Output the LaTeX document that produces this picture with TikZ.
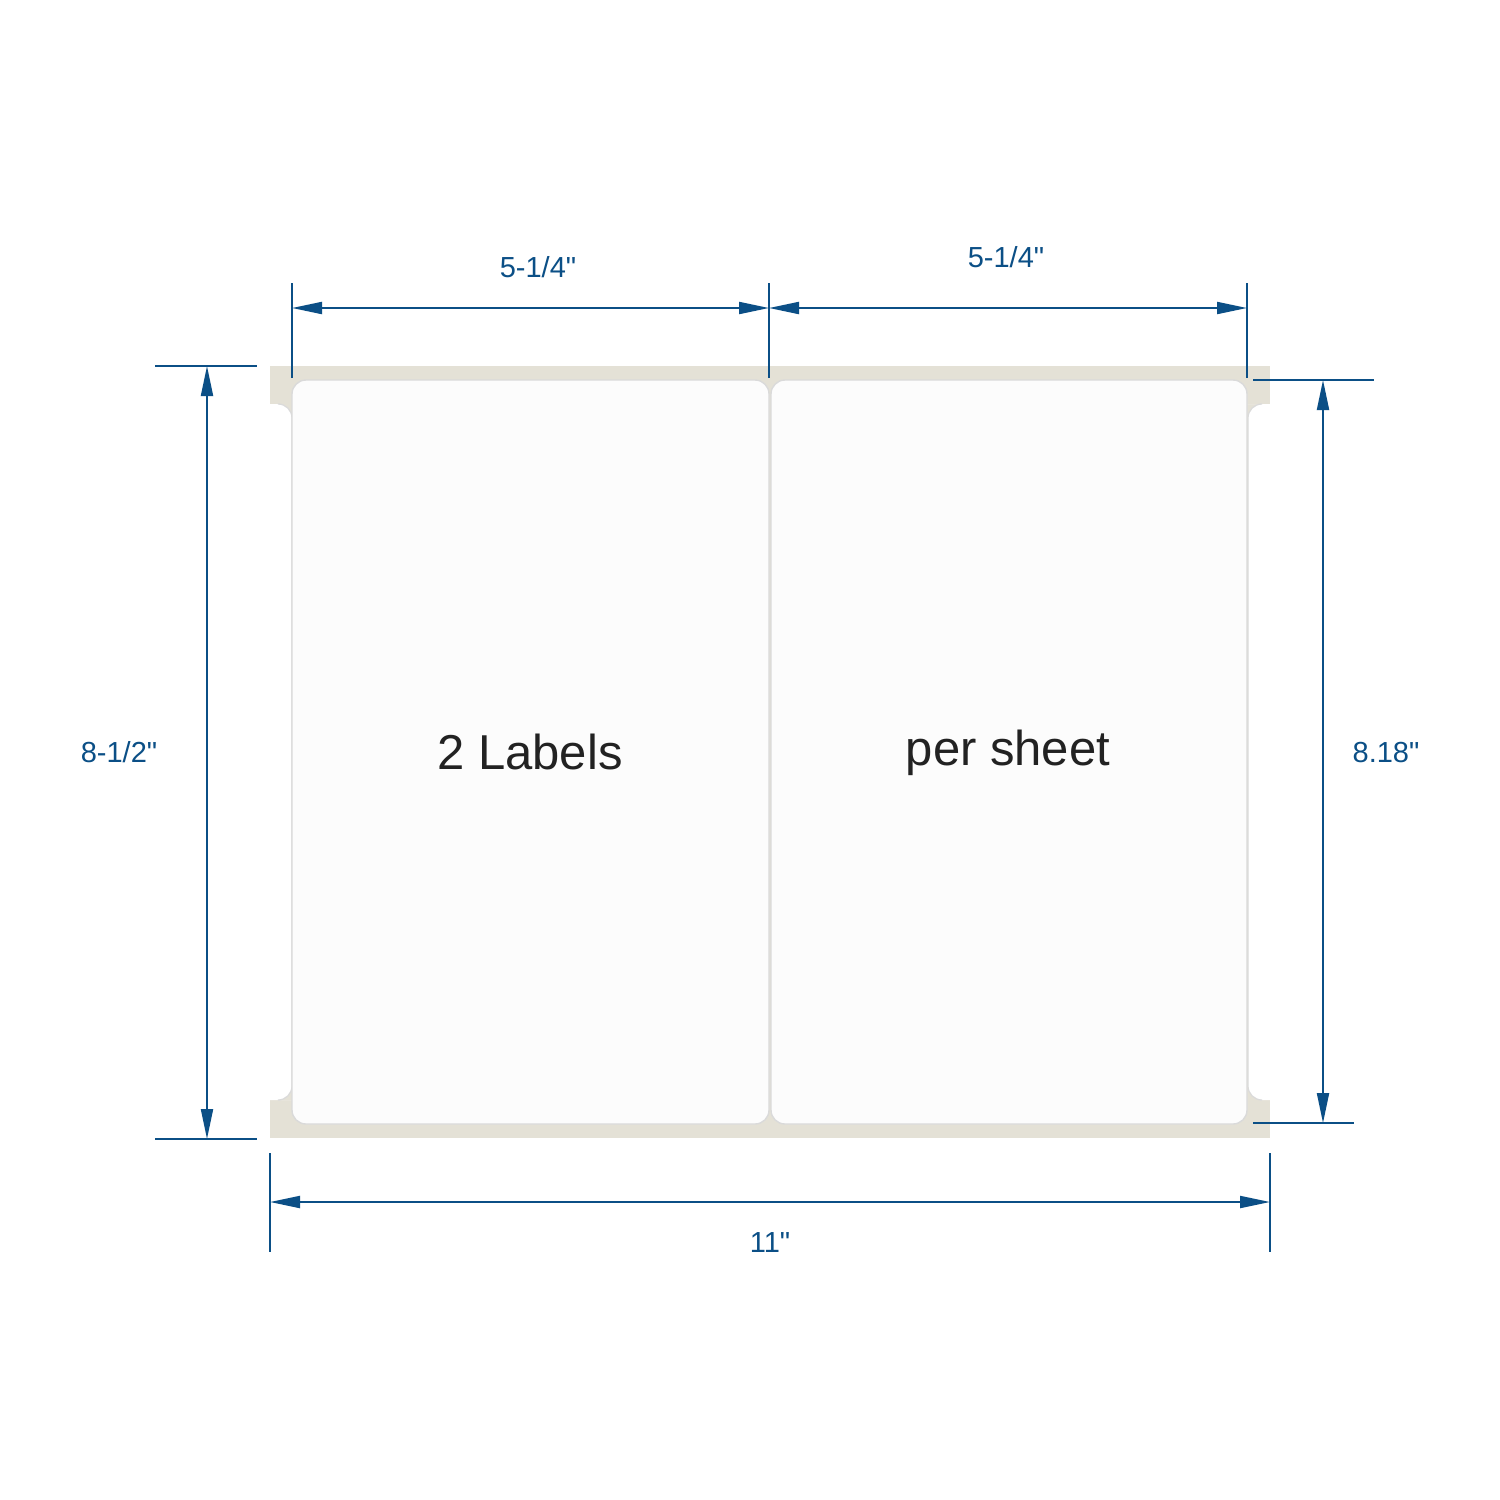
\documentclass[tikz,border=0pt]{standalone}
\usepackage{fontspec}
\setmainfont{Liberation Sans}
\newfontfamily\plainsans{Liberation Sans}
\usetikzlibrary{arrows.meta}
\definecolor{dimblue}{RGB}{11,79,134}
\definecolor{liner}{RGB}{228,225,214}
\definecolor{labelfill}{RGB}{252,252,252}
\definecolor{labeledge}{RGB}{218,218,218}
\definecolor{textgray}{RGB}{34,34,34}
\newcommand{\qm}{\symbol{34}}
\tikzset{
  dimline/.style={draw=dimblue, line width=1pt, {Triangle[length=15pt,width=6pt]}-{Triangle[length=15pt,width=6pt]}},
  extline/.style={draw=dimblue, line width=1pt},
  dimtext/.style={text=dimblue, font=\plainsans\fontsize{14.5}{17}\selectfont, anchor=base, inner sep=0pt},
  bigtext/.style={text=textgray, font=\plainsans\fontsize{24.5}{30}\selectfont, anchor=base, inner sep=0pt},
  labelbox/.style={fill=labelfill, draw=labeledge, line width=0.7pt, rounded corners=7pt},
  strip/.style={fill=white},
  stripedge/.style={draw=labeledge, line width=0.6pt},
}
\begin{document}
\begin{tikzpicture}[x=0.5pt, y=-0.5pt]
\useasboundingbox[fill=white] (0,0) rectangle (1500,1500);
% sheet / liner
\fill[liner] (270,366) rectangle (1270,1138);
% side strips
\path[strip] (270,404) -- (280,404) [rounded corners=7pt] -- (292,404) -- (292,1100) -- (280,1100) [sharp corners] -- (270,1100) -- cycle;
\path[stripedge] (280,404) [rounded corners=7pt] -- (292,404) -- (292,1100) -- (280,1100);
\path[strip] (1270,1100) -- (1260,1100) [rounded corners=7pt] -- (1248,1100) -- (1248,404) -- (1260,404) [sharp corners] -- (1270,404) -- cycle;
\path[stripedge] (1260,1100) [rounded corners=7pt] -- (1248,1100) -- (1248,404) -- (1260,404);
% labels
\path[labelbox] (292,380) rectangle (769,1124);
\path[labelbox] (771,380) rectangle (1247,1124);
\node[bigtext] (t1) at (530,769) {2 Labels};
\node[bigtext] (t2) at (1008,765) {per sheet};
% top dimensions
\coordinate (a1) at (292,283); \coordinate (a1b) at (292,378);
\coordinate (a2) at (769,283); \coordinate (a2b) at (769,378);
\coordinate (a3) at (1247,283); \coordinate (a3b) at (1247,378);
\draw[extline] (a1) -- (a1b);
\draw[extline] (a2) -- (a2b);
\draw[extline] (a3) -- (a3b);
\coordinate (d1s) at (292,308); \coordinate (d1e) at (769,308); \coordinate (d2e) at (1247,308);
\draw[dimline] (d1s) -- (d1e);
\draw[dimline] (d1e) -- (d2e);
\node[dimtext] (w1) at (538,277) {5-1/4\qm};
\node[dimtext] (w2) at (1006,267) {5-1/4\qm};
% left dimension
\coordinate (l1) at (155,366); \coordinate (l1b) at (257,366);
\coordinate (l2) at (155,1139); \coordinate (l2b) at (257,1139);
\draw[extline] (l1) -- (l1b);
\draw[extline] (l2) -- (l2b);
\coordinate (ls) at (207,366); \coordinate (le) at (207,1139);
\draw[dimline] (ls) -- (le);
\node[dimtext] (h1) at (119,762) {8-1/2\qm};
% right dimension
\coordinate (r1) at (1253,380); \coordinate (r1b) at (1374,380);
\coordinate (r2) at (1253,1123); \coordinate (r2b) at (1354,1123);
\draw[extline] (r1) -- (r1b);
\draw[extline] (r2) -- (r2b);
\coordinate (rs) at (1323,380); \coordinate (re) at (1323,1123);
\draw[dimline] (rs) -- (re);
\node[dimtext] (h2) at (1386,762) {8.18\qm};
% bottom dimension
\coordinate (b1) at (270,1153); \coordinate (b1b) at (270,1252);
\coordinate (b2) at (1270,1153); \coordinate (b2b) at (1270,1252);
\draw[extline] (b1) -- (b1b);
\draw[extline] (b2) -- (b2b);
\coordinate (bs) at (270,1202); \coordinate (be) at (1270,1202);
\draw[dimline] (bs) -- (be);
\node[dimtext] (w3) at (770,1252) {11\qm};
\end{tikzpicture}
\end{document}
